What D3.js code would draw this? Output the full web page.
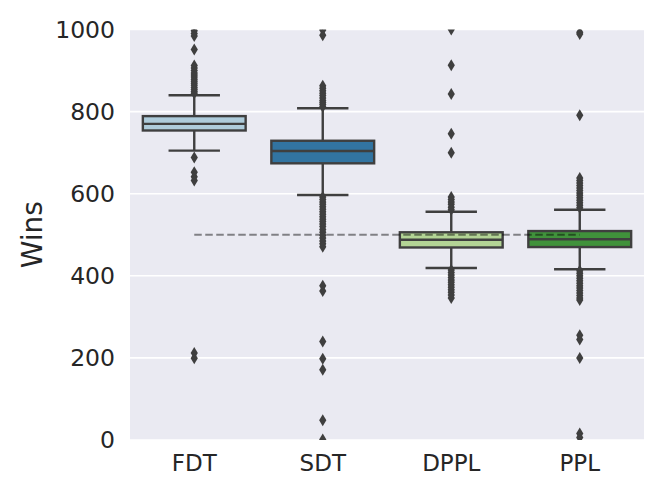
<!DOCTYPE html>
<html><head><meta charset="utf-8">
<script src="https://cdn.jsdelivr.net/npm/d3@7/dist/d3.min.js"></script>
<style>body{margin:0;background:#fff}</style>
</head><body>
<script>
const categories = ["FDT", "SDT", "DPPL", "PPL"];
const baseColors = ["#a6cee3", "#1f78b4", "#b2df8a", "#33a02c"];
const q1 = [754, 674, 469, 470];
const medians = [770, 704, 488, 489];
const q3 = [789, 729, 506, 509];
const whiskerLow = [705, 597, 419, 416];
const whiskerHigh = [840, 808, 556, 561];
const outliersFDT = [997, 990, 984, 951, 912, 906, 900, 894, 889, 884, 879, 874, 869, 864, 859, 854, 849, 845, 688, 652, 641, 632, 212, 199];
const outliersSDT = [999, 986, 863, 857, 851, 845, 839, 833, 827, 822, 817, 812, 592, 586, 580, 574, 568, 562, 556, 550, 544, 538, 532, 526, 520, 513, 506, 499, 492, 485, 478, 471, 376, 363, 240, 198, 171, 48, 1];
const outliersDPPL = [1000, 913, 843, 746, 700, 592, 586, 580, 574, 567, 561, 414, 408, 402, 396, 390, 384, 378, 372, 366, 360, 353, 346];
const outliersPPL = [993, 989, 791, 638, 632, 626, 620, 614, 608, 602, 596, 590, 584, 578, 572, 566, 412, 406, 400, 394, 388, 382, 376, 370, 364, 358, 352, 346, 341, 255, 245, 200, 16, 6];
const yTicks = [0, 200, 400, 600, 800, 1000];
const refValue = 500;

(function () {
const outliers = [outliersFDT, outliersSDT, outliersDPPL, outliersPPL];
const W = 664, H = 498;
const pLeft = 130, pRight = 644, pTop = 29.5, pBottom = 440;
const lineColor = "#3f3f3f";
const lw = 2.4;

const svg = d3.select("body").append("svg").attr("width", W).attr("height", H)
  .style("font-family", "DejaVu Sans, sans-serif");
svg.append("rect").attr("width", W).attr("height", H).attr("fill", "#fff");

const x = d3.scaleBand().domain(categories).range([pLeft, pRight]).paddingInner(0).paddingOuter(0);
const y = d3.scaleLinear().domain([0, 1000]).range([pBottom, pTop]);

svg.append("defs").append("clipPath").attr("id", "clip")
  .append("rect").attr("x", pLeft).attr("y", pTop).attr("width", pRight - pLeft).attr("height", pBottom - pTop);

svg.append("rect").attr("x", pLeft).attr("y", pTop).attr("width", pRight - pLeft).attr("height", pBottom - pTop).attr("fill", "#eaeaf2");

svg.append("g").selectAll("line").data(yTicks).join("line")
  .attr("x1", pLeft).attr("x2", pRight)
  .attr("y1", d => y(d)).attr("y2", d => y(d))
  .attr("stroke", "#fff").attr("stroke-width", 1.6);

const yAxis = svg.append("g").attr("transform", `translate(${pLeft},0)`)
  .call(d3.axisLeft(y).tickValues(yTicks).tickSize(0).tickPadding(15).tickFormat(d3.format("d")));
yAxis.select(".domain").remove();
yAxis.selectAll("text").attr("font-size", 23.5).attr("fill", "#262626").attr("font-family", "DejaVu Sans, sans-serif");

const xAxis = svg.append("g").attr("transform", `translate(0,${pBottom})`)
  .call(d3.axisBottom(x).tickSize(0).tickPadding(15));
xAxis.select(".domain").remove();
xAxis.selectAll("text").attr("font-size", 23).attr("fill", "#262626").attr("font-family", "DejaVu Sans, sans-serif");

svg.append("text").attr("transform", `translate(42,${(pTop + pBottom) / 2}) rotate(-90)`)
  .attr("text-anchor", "middle").attr("font-size", 28).attr("fill", "#262626").text("Wins");

const plot = svg.append("g").attr("clip-path", "url(#clip)");
const bw = x.bandwidth() * 0.8;

function desat(c) { const h = d3.hsl(c); h.s *= 0.75; return h.formatHex(); }

categories.forEach((cat, i) => {
  const cx = x(cat) + x.bandwidth() / 2;
  const g = plot.append("g");
  g.append("line").attr("x1", cx).attr("x2", cx).attr("y1", y(q3[i])).attr("y2", y(whiskerHigh[i]))
    .attr("stroke", lineColor).attr("stroke-width", lw);
  g.append("line").attr("x1", cx).attr("x2", cx).attr("y1", y(q1[i])).attr("y2", y(whiskerLow[i]))
    .attr("stroke", lineColor).attr("stroke-width", lw);
  [whiskerHigh[i], whiskerLow[i]].forEach(v => {
    g.append("line").attr("x1", cx - bw / 4).attr("x2", cx + bw / 4).attr("y1", y(v)).attr("y2", y(v))
      .attr("stroke", lineColor).attr("stroke-width", lw);
  });
  g.append("rect").attr("x", cx - bw / 2).attr("width", bw)
    .attr("y", y(q3[i])).attr("height", y(q1[i]) - y(q3[i]))
    .attr("fill", desat(baseColors[i])).attr("stroke", lineColor).attr("stroke-width", lw);
  g.append("line").attr("x1", cx - bw / 2).attr("x2", cx + bw / 2).attr("y1", y(medians[i])).attr("y2", y(medians[i]))
    .attr("stroke", lineColor).attr("stroke-width", lw);
});

const x0 = x(categories[0]) + x.bandwidth() / 2;
const x3 = x(categories[3]) + x.bandwidth() / 2;
plot.append("line").attr("x1", x0).attr("x2", x3).attr("y1", y(refValue)).attr("y2", y(refValue))
  .attr("stroke", "#000").attr("stroke-opacity", 0.45).attr("stroke-width", 2).attr("stroke-dasharray", "7.5,3.5");

const dw = 3.6, dh = 6;
const diamond = `M0,${-dh}L${dw},0L0,${dh}L${-dw},0Z`;
categories.forEach((cat, i) => {
  const cx = x(cat) + x.bandwidth() / 2;
  plot.append("g").selectAll("path").data(outliers[i]).join("path")
    .attr("d", diamond).attr("transform", d => `translate(${cx},${y(d)})`)
    .attr("fill", lineColor);
});
})();
</script>
</body></html>
